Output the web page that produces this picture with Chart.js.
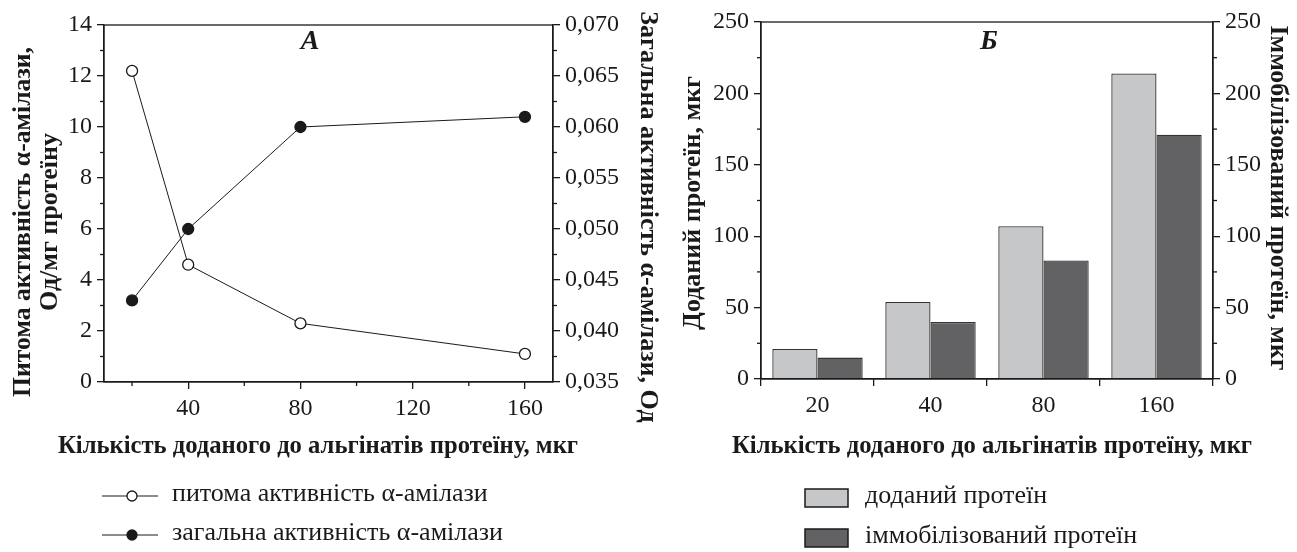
<!DOCTYPE html>
<html><head><meta charset="utf-8">
<script src="https://cdn.jsdelivr.net/npm/chart.js@4.4.1/dist/chart.umd.min.js"></script>
<style>
html,body{margin:0;padding:0;background:#fff;overflow:hidden;}
#wrapA{position:absolute;left:0;top:0;width:660px;height:552px;}
#wrapB{position:absolute;left:660px;top:0;width:637px;height:552px;}
canvas{display:block;}
</style></head><body>
<div id="wrapA"><canvas id="a"></canvas></div>
<div id="wrapB"><canvas id="b"></canvas></div>
<script>
// ---- data ----
const amountsA = [20, 40, 80, 160];
const specificActivity = [12.2, 4.6, 2.3, 1.1];
const totalActivity = [0.043, 0.050, 0.060, 0.061];
const xTicksA = [40, 80, 120, 160];
const xMinorA = [20, 60, 100, 140];
const yMinorA = [1, 3, 5, 7, 9, 11, 13];
const y1MinorA = [0.0375, 0.0425, 0.0475, 0.0525, 0.0575, 0.0625, 0.0675];
const categoriesB = ['20', '40', '80', '160'];
const addedProtein = [21, 54, 107, 214];
const immobilizedProtein = [15, 40, 83, 171];
const yMinorB = [25, 75, 125, 175, 225];
const seriesNamesA = ['питома активність α-амілази', 'загальна активність α-амілази'];
const seriesNamesB = ['доданий протеїн', 'іммобілізований протеїн'];
const xTitle = 'Кількість доданого до альгінатів протеїну, мкг';
const yTitleA = ['Питома активність α-амілази,', 'Од/мг протеїну'];
const y1TitleA = 'Загальна активність α-амілази, Од';
const yTitleB = 'Доданий протеїн, мкг';
const y1TitleB = 'Іммобілізований протеїн, мкг';
const panelA = 'А';
const panelB = 'Б';

// ---- styles ----
const SERIF = "'Liberation Serif','Times New Roman',serif";
const INK = '#1a1a1a';
const tickFont = {family: SERIF, size: 24};
const titleFont = 'bold 26px ' + SERIF;
const panelFont = 'italic bold 28px ' + SERIF;
const legendFont = '26px ' + SERIF;
const LIGHT = '#c6c7c9';
const DARK = '#626264';

const deco = {
  id: 'deco',
  afterDraw(chart, args, o) {
    const ctx = chart.ctx, ca = chart.chartArea;
    ctx.save();
    ctx.strokeStyle = INK; ctx.lineWidth = 1.3;
    ctx.strokeRect(ca.left, ca.top, ca.right - ca.left, ca.bottom - ca.top);
    (o.minor || []).forEach(m => {
      const sc = chart.scales[m.scale];
      m.values.forEach(v => {
        const p = sc.getPixelForValue(v);
        ctx.beginPath();
        if (m.side === 'left') { ctx.moveTo(ca.left - 4, p); ctx.lineTo(ca.left, p); }
        else if (m.side === 'right') { ctx.moveTo(ca.right, p); ctx.lineTo(ca.right + 4, p); }
        else { ctx.moveTo(p, ca.bottom); ctx.lineTo(p, ca.bottom + 4); }
        ctx.stroke();
      });
    });
    ctx.fillStyle = INK;
    (o.texts || []).forEach(t => {
      ctx.save();
      ctx.translate(t.x, t.y);
      ctx.rotate(t.rot || 0);
      ctx.font = t.font;
      ctx.textAlign = 'center';
      ctx.textBaseline = 'middle';
      if (t.maxWidth) ctx.fillText(t.text, 0, 0, t.maxWidth); else ctx.fillText(t.text, 0, 0);
      ctx.restore();
    });
    // legend
    const lg = o.legend;
    if (lg) {
      chart.data.datasets.forEach((ds, i) => {
        const y = lg.rows[i];
        ctx.font = legendFont; ctx.textAlign = 'left'; ctx.textBaseline = 'middle';
        if (lg.kind === 'line') {
          ctx.strokeStyle = ds.borderColor; ctx.lineWidth = 1.2;
          ctx.beginPath(); ctx.moveTo(lg.x0, y); ctx.lineTo(lg.x1, y); ctx.stroke();
          ctx.beginPath(); ctx.arc(lg.xm, y, 5, 0, Math.PI * 2);
          ctx.fillStyle = ds.pointBackgroundColor; ctx.fill();
          ctx.lineWidth = 1.3; ctx.strokeStyle = ds.pointBorderColor; ctx.stroke();
        } else {
          ctx.fillStyle = ds.backgroundColor;
          ctx.fillRect(lg.x0, y - 9, lg.x1 - lg.x0, 18);
          ctx.strokeStyle = INK; ctx.lineWidth = 1.5;
          ctx.strokeRect(lg.x0, y - 9, lg.x1 - lg.x0, 18);
        }
        ctx.fillStyle = INK;
        ctx.fillText(ds.label, lg.xt, y - 2);
      });
    }
    ctx.restore();
  }
};

function axisBase() {
  return {
    ticks: {font: tickFont, color: INK, padding: 5, maxRotation: 0, autoSkip: false},
    grid: {drawOnChartArea: false, tickLength: 7, color: INK, lineWidth: 1.3},
    border: {color: INK, width: 1.3}
  };
}

// ---- Chart A ----
const xA = axisBase();
Object.assign(xA, {type: 'linear', min: 10, max: 170,
  afterBuildTicks: s => { s.ticks = xTicksA.map(v => ({value: v})); },
  afterFit: s => { s.height = 552 - 25 - 357; }});
const yA = axisBase();
Object.assign(yA, {position: 'left', min: 0, max: 14, afterFit: s => { s.width = 104; }});
yA.ticks.stepSize = 2;
const y1A = axisBase();
Object.assign(y1A, {position: 'right', min: 0.035, max: 0.070, afterFit: s => { s.width = 660 - 553; }});
y1A.ticks.stepSize = 0.005;
y1A.ticks.callback = v => v.toFixed(3).replace('.', ',');

new Chart(document.getElementById('a'), {
  type: 'line',
  data: {datasets: [
    {label: seriesNamesA[0], data: amountsA.map((x, i) => ({x, y: specificActivity[i]})), yAxisID: 'y',
     borderColor: INK, borderWidth: 1, pointRadius: 5.5, pointBackgroundColor: '#fff',
     pointBorderColor: INK, pointBorderWidth: 1.3, tension: 0},
    {label: seriesNamesA[1], data: amountsA.map((x, i) => ({x, y: totalActivity[i]})), yAxisID: 'y1',
     borderColor: INK, borderWidth: 1, pointRadius: 5.5, pointBackgroundColor: INK,
     pointBorderColor: INK, pointBorderWidth: 1.3, tension: 0}
  ]},
  options: {
    responsive: true, maintainAspectRatio: false, animation: false,
    layout: {padding: {top: 25, left: 0, right: 0, bottom: 0}},
    plugins: {legend: {display: false}, tooltip: {enabled: false},
      deco: {
        minor: [{scale: 'y', side: 'left', values: yMinorA},
                {scale: 'y1', side: 'right', values: y1MinorA},
                {scale: 'x', side: 'bottom', values: xMinorA}],
        texts: [
          {text: yTitleA[0], x: 23, y: 222, rot: -Math.PI / 2, font: titleFont, maxWidth: 350},
          {text: yTitleA[1], x: 50, y: 222, rot: -Math.PI / 2, font: titleFont, maxWidth: 350},
          {text: y1TitleA, x: 648, y: 217, rot: Math.PI / 2, font: titleFont, maxWidth: 420},
          {text: xTitle, x: 318, y: 446, font: titleFont, maxWidth: 520},
          {text: panelA, x: 310, y: 42, font: panelFont}
        ],
        legend: {kind: 'line', rows: [496, 535], x0: 102, x1: 158, xm: 132, xt: 172}
      }},
    scales: {x: xA, y: yA, y1: y1A}
  },
  plugins: [deco]
});

// ---- Chart B ----
const xB = axisBase();
Object.assign(xB, {afterFit: s => { s.height = 552 - 22 - 357; }});
xB.grid.offset = true;
const yB = axisBase();
Object.assign(yB, {position: 'left', min: 0, max: 250, afterFit: s => { s.width = 101; }});
yB.ticks.stepSize = 50;
const y1B = axisBase();
Object.assign(y1B, {position: 'right', min: 0, max: 250, afterFit: s => { s.width = 637 - 553; }});
y1B.ticks.stepSize = 50;

new Chart(document.getElementById('b'), {
  type: 'bar',
  data: {labels: categoriesB, datasets: [
    {label: seriesNamesB[0], data: addedProtein, yAxisID: 'y', backgroundColor: LIGHT,
     borderColor: '#333', borderWidth: 1.3, barPercentage: 1, categoryPercentage: 0.8},
    {label: seriesNamesB[1], data: immobilizedProtein, yAxisID: 'y1', backgroundColor: DARK,
     borderColor: '#333', borderWidth: 1.3, barPercentage: 1, categoryPercentage: 0.8}
  ]},
  options: {
    responsive: true, maintainAspectRatio: false, animation: false,
    layout: {padding: {top: 22, left: 0, right: 0, bottom: 0}},
    plugins: {legend: {display: false}, tooltip: {enabled: false},
      deco: {
        minor: [{scale: 'y', side: 'left', values: yMinorB},
                {scale: 'y1', side: 'right', values: yMinorB}],
        texts: [
          {text: yTitleB, x: 33, y: 203, rot: -Math.PI / 2, font: titleFont, maxWidth: 260},
          {text: y1TitleB, x: 618, y: 198, rot: Math.PI / 2, font: titleFont, maxWidth: 345},
          {text: xTitle, x: 332, y: 446, font: titleFont, maxWidth: 520},
          {text: panelB, x: 329, y: 42, font: panelFont}
        ],
        legend: {kind: 'box', rows: [498, 538], x0: 145, x1: 188, xt: 205}
      }},
    scales: {x: xB, y: yB, y1: y1B}
  },
  plugins: [deco]
});
</script>
</body></html>
